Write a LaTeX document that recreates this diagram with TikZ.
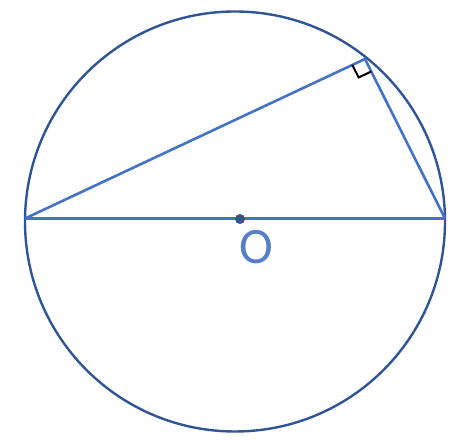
\documentclass[tikz,border=0pt]{standalone}
\usepackage{fontspec}
\setmainfont{Carlito}
\usetikzlibrary{calc}
\definecolor{darkb}{HTML}{2F5597}
\definecolor{lightb}{HTML}{4472C4}
\definecolor{otext}{HTML}{5580C8}
\begin{document}
\begin{tikzpicture}[x=1pt,y=-1pt,
  circ/.style={draw=darkb,line width=2.4pt},
  seg/.style={draw=lightb,line width=2.6pt},
  rmark/.style={draw=black,line width=2pt}]
\useasboundingbox (0,0) rectangle (464,443);
\coordinate (C) at (235,221.5);
\coordinate (A) at (25,218.5);
\coordinate (B) at (445,218.5);
\coordinate (V) at (365,59);
\draw[circ] (C) circle[radius=210];
\draw[seg] (A) -- (B);
\draw[seg] (A) -- (V) -- (B);
\path ($(V)!14pt!(A)$) coordinate (P1);
\path ($(V)!14pt!(B)$) coordinate (P2);
\coordinate (Q) at ($(P1)+(P2)-(V)$);
\draw[rmark] (P1) -- (Q) -- (P2);
\fill[darkb] (240,219) circle[radius=5];
\node[text=otext,font=\fontsize{51}{51}\selectfont,inner sep=0pt] (O) at (256,247) {O};
\end{tikzpicture}
\end{document}
